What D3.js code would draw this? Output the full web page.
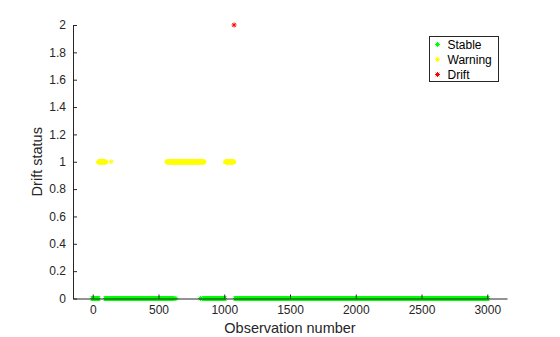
<!DOCTYPE html>
<html>
<head>
<meta charset="utf-8">
<script src="https://cdn.jsdelivr.net/npm/d3@7"></script>
<style>
  body { margin: 0; background: #fff; }
  svg { font-family: "Liberation Sans", Arial, sans-serif; }
  .axis path, .axis line { stroke: #262626; }
  .axis text { fill: #262626; font-size: 12px; }
</style>
</head>
<body>
<svg width="560" height="337"></svg>
<script>
// drift status runs: [first obs, last obs]
var stableRuns  = [[1, 40], [100, 600], [850, 1000], [1088, 3000]];
var stableDots  = [610, 618, 632, 820, 832];
var warningRuns = [[45, 98], [565, 845], [1010, 1072]];
var warningDots = [140];
var driftDots   = [1075];

var xTicks = [0, 500, 1000, 1500, 2000, 2500, 3000];
var yTicks = [0, 0.2, 0.4, 0.6, 0.8, 1, 1.2, 1.4, 1.6, 1.8, 2];

var series = [
  {name: "Stable",  level: 0, color: "#00ff00", runs: stableRuns,  dots: stableDots},
  {name: "Warning", level: 1, color: "#ffff00", runs: warningRuns, dots: warningDots},
  {name: "Drift",   level: 2, color: "#ff0000", runs: [],          dots: driftDots}
];

var svg = d3.select("svg"),
    pLeft = 73, pRight = 507, pTop = 25, pBottom = 298.5;

var x = d3.scaleLinear().domain([-150, 3150]).range([pLeft, pRight]),
    y = d3.scaleLinear().domain([0, 2]).range([pBottom, pTop]);

// '*' marker: plus + cross
function star(cx, cy, r) {
  var d = r * 0.7071;
  return "M" + (cx - r) + "," + cy + "H" + (cx + r) +
         "M" + cx + "," + (cy - r) + "V" + (cy + r) +
         "M" + (cx - d) + "," + (cy - d) + "L" + (cx + d) + "," + (cy + d) +
         "M" + (cx - d) + "," + (cy + d) + "L" + (cx + d) + "," + (cy - d);
}

series.forEach(function(s) {
  var obs = s.dots.slice();
  s.runs.forEach(function(r) { d3.range(r[0], r[1] + 1).forEach(function(i) { obs.push(i); }); });
  svg.append("g").selectAll("path")
    .data(obs)
    .enter().append("path")
      .attr("d", function(d) { return star(x(d), y(s.level), 2.5); })
      .attr("stroke", s.color)
      .attr("stroke-width", 1)
      .attr("fill", "none");
});

svg.append("g")
    .attr("class", "axis")
    .attr("transform", "translate(0," + pBottom + ")")
    .call(d3.axisBottom(x).tickValues(xTicks).tickSizeInner(-4).tickSizeOuter(0).tickPadding(7).tickFormat(d3.format("d")));

svg.append("g")
    .attr("class", "axis")
    .attr("transform", "translate(" + pLeft + ",0)")
    .call(d3.axisLeft(y).tickValues(yTicks).tickSizeInner(-4).tickSizeOuter(0).tickPadding(7).tickFormat(function(d) { return d; }));

svg.append("text")
    .attr("x", (pLeft + pRight) / 2).attr("y", 333)
    .attr("text-anchor", "middle")
    .attr("font-size", "14.5px").attr("fill", "#262626")
    .text("Observation number");

svg.append("text")
    .attr("transform", "translate(42," + ((pTop + pBottom) / 2) + ") rotate(-90)")
    .attr("text-anchor", "middle")
    .attr("font-size", "14.5px").attr("fill", "#262626")
    .text("Drift status");

// legend
var lg = svg.append("g").attr("transform", "translate(429.5,36.5)");
lg.append("rect").attr("width", 69).attr("height", 45)
  .attr("fill", "#fff").attr("stroke", "#262626").attr("stroke-width", 1);
series.forEach(function(s, i) {
  var cy = 8 + i * 15;
  lg.append("path").attr("d", star(8, cy, 2.5)).attr("stroke", s.color).attr("fill", "none");
  lg.append("text").attr("x", 18).attr("y", cy + 4).attr("font-size", "12px").attr("fill", "#000").text(s.name);
});
</script>
</body>
</html>
